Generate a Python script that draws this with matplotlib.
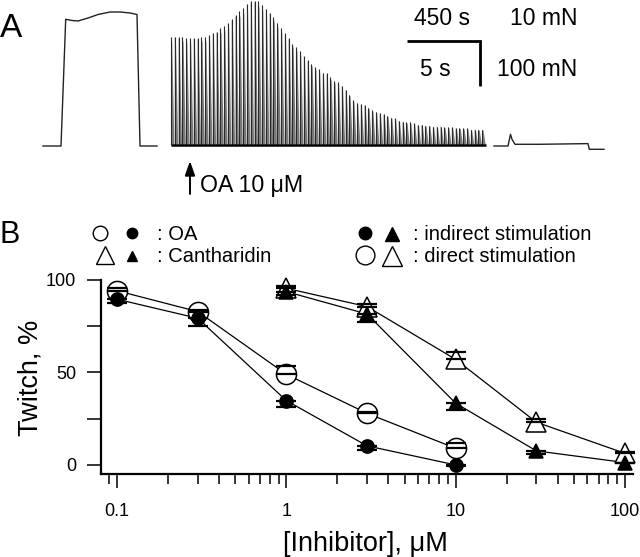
import matplotlib
matplotlib.use('Agg')
import matplotlib.pyplot as plt
import numpy as np
from matplotlib.collections import PolyCollection
from matplotlib.ticker import NullFormatter
from matplotlib.patches import ArrowStyle

plt.rcParams['font.family'] = ['Liberation Sans', 'DejaVu Sans']

# ------------------------------------------------------------------ data
# Panel B: twitch (% of control) vs inhibitor concentration (uM)
conc_oa = [0.1, 0.3, 1, 3, 10]
oa_direct = [94.2, 82.9, 49.0, 27.9, 9.0]
oa_direct_err = [1.5, 1.0, 4.7, 0.5, 2.8]
oa_indirect = [89.6, 79.3, 34.8, 10.3, 0.0]
oa_indirect_err = [2.2, 4.2, 3.6, 2.0, 0.5]

conc_ca = [1, 3, 10, 30, 100]
ca_direct = [95.5, 85.6, 57.1, 23.1, 6.3]
ca_direct_err = [1.3, 1.2, 4.2, 1.8, 0.6]
ca_indirect = [93.7, 81.6, 33.4, 7.6, 1.3]
ca_indirect_err = [1.8, 4.1, 3.7, 1.7, 0.5]

yticks = [0, 25, 50, 75, 100]
ytick_labels = ['0', '', '50', '', '100']
xticks = [0.1, 1, 10, 100]
xtick_labels = ['0.1', '1', '10', '100']

# Panel A: twitch train (slow time base: 450 s / 10 mN)
twitch_interval_s = 23.4
twitch_peaks_mN = [24.0, 24.0, 23.8, 23.8, 23.6, 23.6, 23.6, 23.6, 23.8, 24.0,
                   24.4, 24.7, 25.1, 25.8, 26.4, 27.1, 27.8, 28.7, 29.6, 30.4,
                   31.3, 31.8, 32.0, 31.8, 31.1, 30.2, 29.3, 28.4, 27.1, 26.0,
                   24.7, 23.6, 22.4, 21.6, 20.7, 19.6, 18.7, 18.0, 17.3, 16.7,
                   16.0, 15.8, 14.9, 14.2, 13.8, 13.1, 12.2, 11.1, 9.8, 9.3,
                   8.9, 8.7, 8.2, 7.6, 7.3, 6.9, 6.7, 6.4, 6.0, 5.8,
                   5.3, 5.1, 4.9, 4.9, 4.7, 4.4, 4.4, 4.2, 4.2, 4.0,
                   4.0, 4.0, 3.8, 3.8, 3.8, 3.6, 3.6, 3.6, 3.6, 3.3,
                   3.3, 3.3, 3.3]
oa_add_time_s = 117

# Panel A: tetanic traces (fast time base: 5 s / 100 mN)
tetanus1_t = [0, 1.233, 1.555, 1.986, 2.397, 3.082, 3.767, 4.589, 5.274, 5.959, 6.438, 6.644, 7.808]
tetanus1_f = [0, 0, 281.6, 278.9, 277.8, 284.4, 292.2, 297.8, 297.8, 295.6, 292.2, 0, 0]
tetanus2_t = [0, 0.959, 1.130, 1.233, 1.438, 3.151, 6.438, 6.527, 7.534]
tetanus2_f = [0, 0, 26.0, 14.9, 3.8, 3.8, 5.3, -7.3, -7.3]

# ------------------------------------------------------------------ layout
W, H = 640, 557
fig = plt.figure(figsize=(W / 100, H / 100), dpi=100)

TOP_H = 200                      # px height of panel A region
PX_PER_S_MID = 73 / 450.0
PX_PER_MN_MID = 45 / 10.0
PX_PER_S_TET = 73 / 5.0
PX_PER_MN_TET = 45 / 100.0
MID_X0, MID_BASE = 171, 144.5
TET_X0, TET_BASE = 43, 146
TET2_OFFSET_S = (494 - 43) / PX_PER_S_TET

rect_top = [0, 1 - TOP_H / H, 1, TOP_H / H]

# middle (twitch) axes
ax_mid = fig.add_axes(rect_top)
ax_mid.set_xlim(-MID_X0 / PX_PER_S_MID, (W - MID_X0) / PX_PER_S_MID)
ax_mid.set_ylim((MID_BASE - TOP_H) / PX_PER_MN_MID, MID_BASE / PX_PER_MN_MID)
ax_mid.axis('off')

def ymid(ypx):
    return (MID_BASE - ypx) / PX_PER_MN_MID

decay_s = 3.4 / PX_PER_S_MID
t_tw = np.arange(len(twitch_peaks_mN)) * twitch_interval_s
polys = [[(t, 0), (t, p), (t + 0.35 * decay_s, 0.95 * p), (t + decay_s, 0)]
         for t, p in zip(t_tw, twitch_peaks_mN)]
ax_mid.add_collection(PolyCollection(polys, facecolor='#7a7a7a', edgecolor='none'))
ax_mid.vlines(t_tw, 0, twitch_peaks_mN, color='#2a2a2a', lw=0.8)
ax_mid.plot([t_tw[0], t_tw[-1] + decay_s], [0, 0], color='k', lw=1.8, solid_capstyle='butt')

# scale bar (450 s / 10 mN)
sb_t0 = (407 - MID_X0) / PX_PER_S_MID
sb_f0 = ymid(41)
ax_mid.plot([sb_t0, sb_t0 + 450, sb_t0 + 450], [sb_f0, sb_f0, sb_f0 - 10],
            color='k', lw=2.0, solid_joinstyle='miter', solid_capstyle='butt')

# OA arrow
ax_mid.annotate('', xy=(oa_add_time_s, ymid(161)), xytext=(oa_add_time_s, ymid(194)),
                arrowprops=dict(arrowstyle=ArrowStyle('-|>', head_length=0.85, head_width=0.3),
                                mutation_scale=10, lw=1.4, color='k', shrinkA=0, shrinkB=0))

# tetanus axes
ax_tet = fig.add_axes(rect_top)
ax_tet.set_xlim(-TET_X0 / PX_PER_S_TET, (W - TET_X0) / PX_PER_S_TET)
ax_tet.set_ylim((TET_BASE - TOP_H) / PX_PER_MN_TET, TET_BASE / PX_PER_MN_TET)
ax_tet.axis('off')
ax_tet.plot(tetanus1_t, tetanus1_f, color='#222222', lw=1.0)
ax_tet.plot(np.array(tetanus2_t) + TET2_OFFSET_S, tetanus2_f, color='#222222', lw=1.0)

# ------------------------------------------------------------------ panel B
ax = fig.add_axes([101 / W, 1 - 474 / H, 532 / W, 194 / H])
ax.set_xscale('log')
ax.set_xlim(0.0804, 111.7)
ax.set_ylim(-4.9, 100)
for s in ['top', 'right']:
    ax.spines[s].set_visible(False)
for s in ['left', 'bottom']:
    ax.spines[s].set_linewidth(1.6)

def draw_series(x, y, err, filled, marker, ms, z):
    ax.plot(x, y, '-', color='k', lw=0.9, zorder=2, clip_on=False)
    e = np.array(err)
    zero = np.zeros_like(e)
    yerr = [zero, e] if not filled else [e, zero]
    _, caps, bars = ax.errorbar(x, y, yerr=yerr, fmt='none', ecolor='k', elinewidth=1.0,
                                capsize=7.5, capthick=1.6, zorder=z - 0.5)
    for b in bars:
        b.set_clip_on(False)
    ax.plot(x, y, linestyle='none', marker=marker, ms=ms,
            mfc='k' if filled else 'white', mec='k', mew=1.1, zorder=z, clip_on=False)
    for c in caps:
        c.set_zorder(z + 0.5 if not filled else z - 0.5)
        c.set_clip_on(False)

draw_series(conc_oa, oa_direct, oa_direct_err, False, 'o', 14.5, 3)
draw_series(conc_ca, ca_direct, ca_direct_err, False, '^', 14.5, 3)
draw_series(conc_oa, oa_indirect, oa_indirect_err, True, 'o', 9.5, 5)
draw_series(conc_ca, ca_indirect, ca_indirect_err, True, '^', 10, 5)

ax.set_xticks(xticks)
ax.set_xticklabels(xtick_labels)
ax.xaxis.set_minor_formatter(NullFormatter())
ax.set_yticks(yticks)
ax.set_yticklabels(ytick_labels)
ax.tick_params(axis='both', which='major', direction='out', length=10, width=1.1,
               labelsize=13, color='k')
ax.tick_params(axis='x', which='major', pad=11)
ax.tick_params(axis='y', which='major', pad=8)
ax.tick_params(axis='x', which='minor', direction='out', length=7, width=1.1, color='k')

# ------------------------------------------------------------------ text overlay (pixel coords)
ov = fig.add_axes([0, 0, 1, 1])
ov.set_xlim(0, W)
ov.set_ylim(H, 0)
ov.axis('off')

ov.text(0, 37, 'A', fontsize=24, ha='left', va='baseline')
ov.text(0, 243, 'B', fontsize=22, ha='left', va='baseline')

ov.text(442, 25, '450 s', fontsize=16.5, ha='center', va='baseline')
ov.text(543.5, 25, '10 mN', fontsize=16.5, ha='center', va='baseline')
ov.text(435, 76, '5 s', fontsize=16.5, ha='center', va='baseline')
ov.text(537, 76, '100 mN', fontsize=16.5, ha='center', va='baseline')
ov.text(200, 192, 'OA 10 \u03bcM', fontsize=16.7, ha='left', va='baseline')

ov.text(365, 551, '[Inhibitor], \u03bcM', fontsize=19.5, ha='center', va='baseline')
ov.text(37.5, 377.5, 'Twitch, %', fontsize=19.5, ha='center', va='baseline',
        rotation=90, rotation_mode='anchor')

# legend keys
ov.plot([100], [232.5], 'o', ms=10.5, mfc='white', mec='k', mew=1.0)
ov.plot([132], [233], 'o', ms=7.5, mfc='k', mec='k')
ov.plot([105], [255], '^', ms=13, mfc='white', mec='k', mew=1.0)
ov.plot([132], [256], '^', ms=7.5, mfc='k', mec='k')
ov.text(157, 240, ': OA', fontsize=14.5, ha='left', va='baseline')
ov.text(157, 262, ': Cantharidin', fontsize=14.5, ha='left', va='baseline')

ov.plot([365], [232.5], 'o', ms=9, mfc='k', mec='k')
ov.plot([392], [234], '^', ms=9.5, mfc='k', mec='k')
ov.plot([365], [255], 'o', ms=13.5, mfc='white', mec='k', mew=1.0)
ov.plot([392], [256], '^', ms=14, mfc='white', mec='k', mew=1.0)
ov.text(413, 240, ': indirect stimulation', fontsize=14.5, ha='left', va='baseline')
ov.text(413, 262, ': direct stimulation', fontsize=14.5, ha='left', va='baseline')

fig.savefig('out.png', dpi=100)
